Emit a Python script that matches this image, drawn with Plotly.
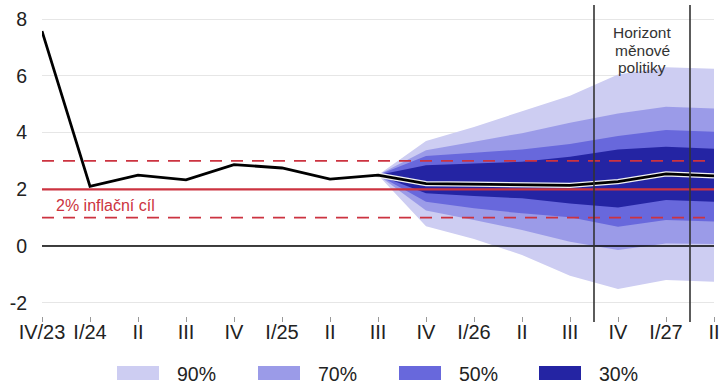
import plotly.graph_objects as go

# ---- data ----
tick_labels = ["IV/23", "I/24", "II", "III", "IV", "I/25", "II", "III",
               "IV", "I/26", "II", "III", "IV", "I/27", "II"]
inflation = [7.58, 2.10, 2.50, 2.33, 2.87, 2.75, 2.36, 2.50,
             2.20, 2.18, 2.17, 2.14, 2.27, 2.54, 2.47]
fan_start = 7  # III/25, first point of the fan

band90_up = [2.5, 3.70, 4.20, 4.75, 5.30, 6.05, 6.30, 6.25]
band90_lo = [2.5, 0.70, 0.25, -0.32, -1.05, -1.52, -1.20, -1.26]
band70_up = [2.5, 3.38, 3.68, 3.98, 4.35, 4.67, 4.91, 4.85]
band70_lo = [2.5, 1.25, 0.92, 0.56, 0.15, -0.14, 0.09, 0.07]
band50_up = [2.5, 3.17, 3.29, 3.40, 3.60, 3.88, 4.09, 4.03]
band50_lo = [2.5, 1.56, 1.33, 1.15, 1.01, 0.68, 0.92, 0.86]
band30_up = [2.5, 2.85, 2.91, 2.97, 3.15, 3.40, 3.50, 3.43]
band30_lo = [2.5, 1.86, 1.76, 1.68, 1.50, 1.36, 1.62, 1.56]

y_ticks = [-2, 0, 2, 4, 6, 8]
y_tick_labels = ["-2", "0", "2", "4", "6", "8"]

target = 2.0
tolerance = [1.0, 3.0]
horizon_lines = [11.5, 13.5]

band_names = ["90%", "70%", "50%", "30%"]
band_colors = ["#cdcdf2", "#9b9be8", "#6868dc", "#2424a3"]
bands = [(band90_up, band90_lo), (band70_up, band70_lo),
         (band50_up, band50_lo), (band30_up, band30_lo)]

RED = "#cc3340"
FONT = "Liberation Sans, Arial, sans-serif"

x_all = list(range(len(inflation)))
x_fan = x_all[fan_start:]

fig = go.Figure()

for (up, lo), col, name in zip(bands, band_colors, band_names):
    fig.add_trace(go.Scatter(
        x=x_fan + x_fan[::-1], y=up + lo[::-1],
        fill="toself", fillcolor=col, mode="none", name=name,
        hoverinfo="skip"))

x_min, x_max = x_all[0], x_all[-1]
# zero line
fig.add_trace(go.Scatter(x=[x_min, x_max], y=[0, 0], mode="lines",
                         line=dict(color="black", width=1.5), hoverinfo="skip"))
# tolerance band
for t in tolerance:
    fig.add_trace(go.Scatter(x=[x_min, x_max], y=[t, t], mode="lines",
                             line=dict(color=RED, width=1.7, dash="12px,9px"),
                             hoverinfo="skip"))
# target
fig.add_trace(go.Scatter(x=[x_min, x_max], y=[target, target], mode="lines",
                         line=dict(color=RED, width=2.2), hoverinfo="skip"))

# forecast outline
fig.add_trace(go.Scatter(x=x_fan, y=inflation[fan_start:], mode="lines",
                         line=dict(color="#f2f2f2", width=5.2), hoverinfo="skip"))
fig.add_trace(go.Scatter(x=x_all, y=inflation, mode="lines",
                         line=dict(color="black", width=2.8), hoverinfo="skip"))

# plot area geometry (pixels) for paper-coordinate placement
W, H = 726, 388
ML, MR, MT, MB = 42, 12, 5, 72
PW, PH = W - ML - MR, H - MT - MB


def px(xp):
    return (xp - ML) / PW


def py(yp):
    return (H - MB - yp) / PH


# horizon lines
for hx in horizon_lines:
    fig.add_shape(type="line", x0=hx, x1=hx, xref="x", yref="paper",
                  y0=py(322), y1=1, line=dict(color="#333333", width=1.6),
                  layer="above")

# horizon text
for txt, yc in zip(["Horizont", "měnové", "politiky"], [32, 50, 67]):
    fig.add_annotation(x=sum(horizon_lines) / 2, xref="x", y=py(yc), yref="paper",
                       text=txt, showarrow=False, yanchor="middle",
                       font=dict(family=FONT, size=15.5, color="#333333"))

# target label
fig.add_annotation(x=px(54), xref="paper", y=py(205), yref="paper",
                   text="2% inflační cíl", showarrow=False, xanchor="left",
                   yanchor="middle", font=dict(family=FONT, size=16, color=RED))

# custom legend
leg_x = [117, 258, 399, 539]
for lx, col, name in zip(leg_x, band_colors, band_names):
    fig.add_shape(type="rect", xref="paper", yref="paper",
                  x0=px(lx), x1=px(lx + 42), y0=py(380), y1=py(366),
                  fillcolor=col, line=dict(width=0))
    fig.add_annotation(x=px(lx + 58), xref="paper", y=py(374), yref="paper",
                       text=name, showarrow=False, xanchor="left", yanchor="middle",
                       font=dict(family=FONT, size=19.5, color="#222222"))

fig.update_layout(
    width=W, height=H,
    margin=dict(l=ML, r=MR, t=MT, b=MB, autoexpand=False),
    plot_bgcolor="white", paper_bgcolor="white",
    showlegend=False, hovermode=False,
    font=dict(family=FONT, size=19, color="#222222"),
)
fig.update_xaxes(range=[x_min, x_max], tickvals=x_all, ticktext=tick_labels,
                 showgrid=False, zeroline=False, showline=False,
                 ticks="outside", ticklen=5, tickcolor="#999999",
                 ticklabelstandoff=-7,
                 tickfont=dict(family=FONT, size=20, color="#222222"))
fig.update_yaxes(range=[-2.47, 8.5], tickvals=y_ticks, ticktext=y_tick_labels,
                 showgrid=True, gridcolor="#e6e6e6", gridwidth=1,
                 zeroline=False, showline=False, ticks="",
                 ticklabelstandoff=14,
                 tickfont=dict(family=FONT, size=19.5, color="#222222"))

fig.write_html("out.html", config={"displayModeBar": False},
               post_script="document.body.style.margin='0';"
                           "document.body.style.overflow='hidden';")
